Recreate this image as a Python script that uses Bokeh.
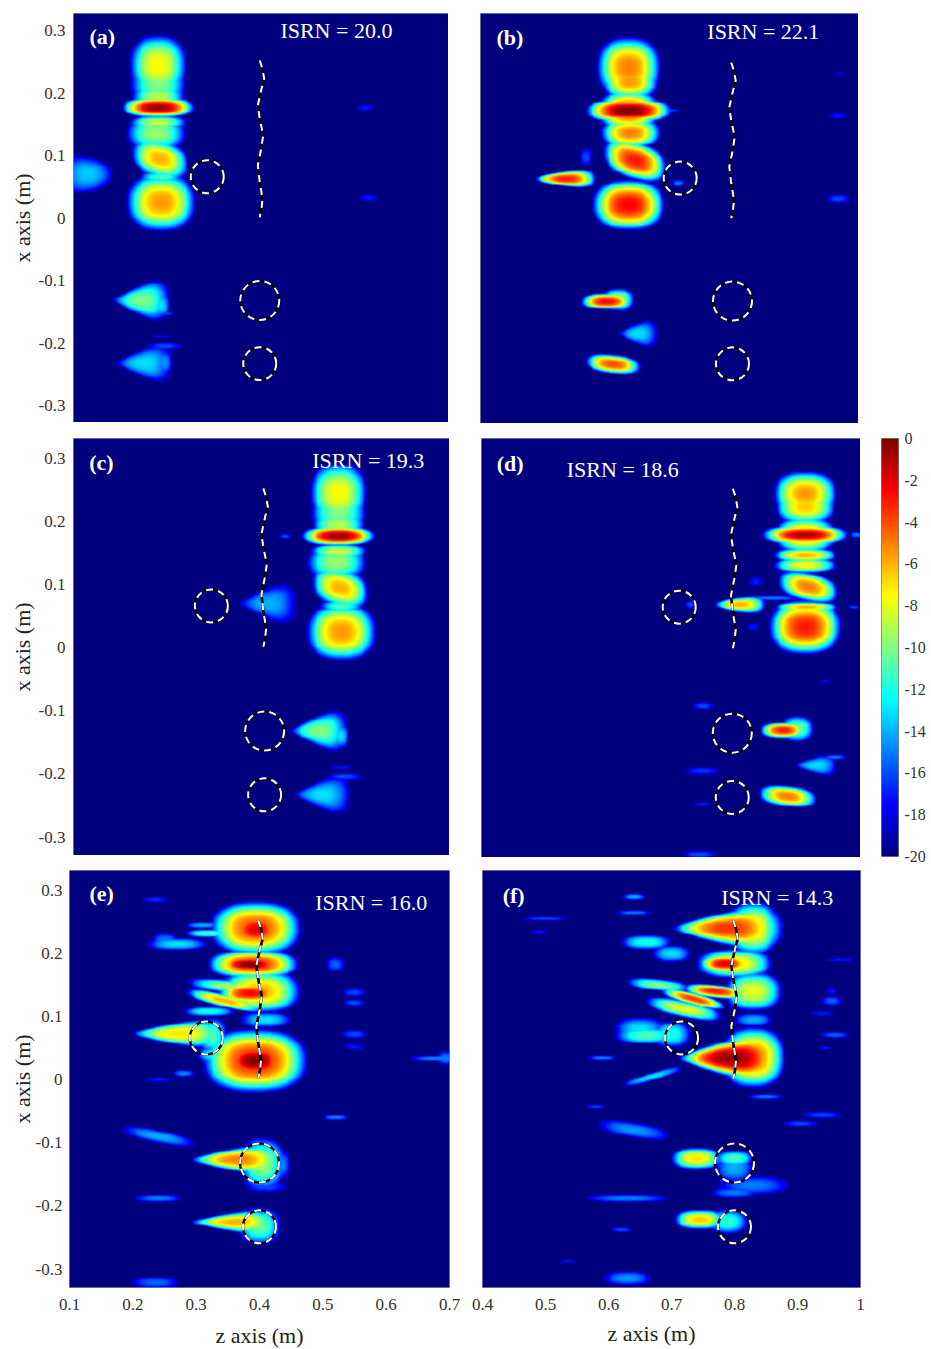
import numpy as np
from bokeh.plotting import figure
from bokeh.layouts import row, column
from bokeh.models import Range1d, FixedTicker, Label, LinearColorMapper, Title
from bokeh.embed import file_html
from bokeh.resources import INLINE

# each blob: z centre, x centre, half-width in z, half-width in x, peak (dB), [taper, slope]
blobs_a = [(.235,.245,.047,.05,-7.5),(.235,.215,.046,.035,-10),(.235,.195,.044,.02,-9),
 (.235,.177,.06,.016,-.5),(.235,.153,.047,.012,-8.5),(.232,.135,.049,.028,-9.5),
 (.238,.095,.047,.032,-6,0,-.2),(.24,.025,.057,.047,-5.5),(.24,.066,.036,.01,-11),(.122,.07,.042,.03,-13.5,-.3),
 (.208,-.132,.047,.026,-10,.8),(.24,-.14,.014,.02,-13),(.25,-.153,.012,.003,-16),
 (.212,-.233,.047,.024,-13,.8),(.245,-.232,.012,.02,-14.5),
 (.24,-.19,.02,.003,-17),(.245,-.205,.03,.006,-16),(.567,.177,.015,.005,-17),(.573,.032,.015,.006,-17),(.19,.177,.012,.002,-17)]
blobs_b = [(.635,.245,.052,.05,-5),(.637,.222,.046,.03,-5.5),(.635,.175,.07,.02,0),(.635,.175,.05,.035,-4),
 (.638,.139,.049,.025,-5),(.645,.095,.052,.032,-3,0,-.25),(.635,.023,.059,.042,-2.5),(.535,.065,.05,.013,-3,.5),
 (.567,.10,.01,.015,-16),(.714,.058,.012,.006,-15),(.7,.175,.018,.003,-16),
 (.6,-.133,.042,.013,-2.5),(.618,-.13,.027,.019,-9),(.65,-.185,.032,.018,-13,.7),(.61,-.234,.045,.016,-4,0,-.1),
 (.968,.167,.015,.006,-17),(.968,.033,.02,.008,-16),(.97,.236,.01,.003,-18)]
blobs_c = [(.523,.245,.047,.05,-7.5),(.523,.215,.046,.035,-10),(.523,.195,.044,.02,-9),
 (.523,.177,.06,.016,-.5),(.523,.153,.047,.012,-8.5),(.52,.135,.049,.028,-9.5),
 (.526,.095,.047,.032,-6,0,-.2),(.528,.025,.057,.047,-5.5),(.528,.066,.036,.01,-11),
 (.41,.07,.048,.026,-14,.8),(.492,-.132,.047,.026,-10,.8),(.526,-.14,.014,.02,-13),
 (.497,-.233,.047,.024,-13,.8),(.528,-.19,.02,.003,-17),(.533,-.205,.03,.006,-16),(.438,.177,.012,.004,-16)]
blobs_d = [(.913,.245,.052,.036,-5.5),(.913,.225,.049,.03,-6.5),(.913,.18,.07,.016,-1),(.913,.18,.05,.03,-6),
 (.913,.148,.052,.012,-6),(.913,.132,.052,.012,-7.5),(.918,.098,.049,.024,-5,0,-.2),(.915,.066,.052,.008,-6),
 (.913,.035,.059,.044,-3),(.81,.07,.042,.012,-6,.4),(.86,.08,.05,.004,-15),(.731,.07,.01,.007,-16),
 (.878,-.128,.037,.013,-3),(.9,-.125,.027,.021,-10),(.93,-.183,.034,.014,-13,.7),(.96,-.17,.02,.004,-15),
 (.885,-.232,.047,.017,-5,0,-.1),(.751,-.09,.018,.006,-16),(.75,-.192,.03,.006,-16.5),(.75,-.244,.015,.004,-17),
 (.745,-.324,.03,.006,-16),(.995,.18,.012,.006,-15),(.99,.066,.012,.003,-16),(.944,-.05,.012,.003,-17),
 (.835,.106,.012,.008,-17),(.83,.035,.01,.006,-17)]
blobs_e = [(.394,.24,.074,.044,-4),(.394,.238,.044,.027,-2),(.32,.232,.04,.007,-11),(.31,.245,.03,.005,-14),
 (.27,.215,.05,.01,-13),(.25,.22,.022,.014,-15),(.39,.183,.074,.023,-3),(.385,.183,.052,.013,0),
 (.4,.14,.067,.035,-6),(.385,.137,.052,.017,-2.5),(.36,.147,.075,.011,-9,0,-.1),
 (.345,.125,.062,.011,-6,0,-.23),(.32,.108,.042,.008,-12),(.41,.095,.042,.013,-13),
 (.272,.073,.076,.019,-7,.7),(.325,.07,.024,.03,-11),
 (.393,.03,.085,.052,-3),(.393,.03,.052,.027,0),(.33,.04,.03,.013,-12),
 (.68,.034,.045,.005,-15),(.695,.034,.015,.012,-15),(.52,.183,.015,.012,-15.5),(.55,.138,.02,.007,-16),
 (.55,.122,.018,.006,-16),(.55,.072,.022,.007,-16),(.55,.052,.018,.005,-17),(.52,-.06,.023,.005,-15),
 (.24,-.09,.06,.011,-14,0,-.2),(.365,-.127,.075,.02,-5,.7),(.405,-.133,.037,.042,-9.5),(.435,-.135,.014,.024,-15),
 (.36,-.226,.07,.016,-6,.7),(.4,-.232,.035,.03,-10.5),
 (.24,-.188,.04,.006,-15),(.235,-.322,.04,.01,-15.5),
 (.28,.01,.018,.006,-15),(.235,.285,.022,.005,-16.5),(.24,0.,.025,.004,-17),(.41,-.17,.035,.01,-16)]
blobs_f = [(.79,.24,.09,.028,-3.5,.7),(.83,.24,.042,.044,-7),
 (.8,.184,.062,.024,-7),(.785,.184,.042,.014,-2),(.66,.218,.042,.012,-12),(.70,.2,.032,.014,-13),(.83,.14,.047,.032,-8),(.77,.14,.052,.011,-3,0,-.1),
 (.735,.128,.052,.01,-3.5,0,-.25),(.72,.112,.062,.014,-8,0,-.2),(.68,.15,.052,.01,-10,0,-.1),(.83,.095,.032,.011,-14),
 (.65,.08,.042,.02,-13),(.66,.07,.052,.014,-11),(.7,.072,.032,.022,-12),
 (.795,.034,.085,.031,-.5,.7),(.83,.035,.052,.05,-5),
 (.67,.005,.05,.007,-13,0,.29),(.59,.035,.025,.004,-15),(.64,.29,.02,.006,-14),
 (.64,.265,.03,.004,-15),(.5,.255,.04,.003,-16),(.49,.235,.015,.003,-17),(.955,.125,.018,.008,-15.5),(.955,.14,.01,.006,-17),
 (.94,.105,.02,.004,-17),(.96,.071,.025,.005,-15.5),(.945,.05,.012,.003,-17),(.97,.19,.025,.003,-17),(.85,-.027,.03,.005,-15),
 (.94,-.056,.035,.006,-16),(.905,-.07,.03,.005,-16),(.58,-.043,.018,.003,-16),(.64,-.08,.06,.013,-14.5,0,-.15),
 (.74,-.125,.042,.018,-7),(.8,-.125,.032,.013,-11),(.8,-.14,.032,.024,-14),(.83,-.168,.06,.016,-15),(.8,-.18,.04,.008,-15),(.63,-.188,.07,.006,-15),
 (.745,-.222,.042,.016,-6.5),(.79,-.225,.032,.02,-11.5),(.62,-.238,.018,.004,-16),(.63,-.315,.04,.012,-14.5),(.535,-.288,.018,.003,-17)]

circle_z_a = [.314,.398,.398]; circle_z_b = [.717,.80,.80]; circle_z_c = [.32,.405,.405]
circle_z_d = [.713,.797,.797]; circle_z_e = [.316,.40,.40]; circle_z_f = [.716,.80,.80]
circle_x = [.066,-.132,-.233]
wave_z = [.398,.4024,.4051,.4008,.3949,.398,.4035,.4003,.3949,.398,.4024,.4008,.398]
wave_x = [.252,.2387,.2227,.2067,.18,.1587,.132,.1107,.084,.0573,.0307,.0147,.0013]
isrn_a, isrn_b, isrn_c, isrn_d, isrn_e, isrn_f = "20.0", "22.1", "19.3", "18.6", "16.0", "14.3"
z_ticks_left = [.1,.2,.3,.4,.5,.6,.7]
z_ticks_right = [.4,.5,.6,.7,.8,.9,1]
x_ticks = [-.3,-.2,-.1,0,.1,.2,.3]
x_labels = ["-0.3","-0.2","-0.1","0","0.1","0.2","0.3"]
cb_ticks = [0,-2,-4,-6,-8,-10,-12,-14,-16,-18,-20]

FONT = "Liberation Serif"
X_DEFAULT = (-.329, .331)

def jet(n=256):
    t = np.linspace(0, 1, n)
    r = np.clip(1.5 - np.abs(4*t - 3), 0, 1)
    g = np.clip(1.5 - np.abs(4*t - 2), 0, 1)
    b = np.clip(1.5 - np.abs(4*t - 1), 0, 1)
    return ["#%02x%02x%02x" % (int(a*255), int(c*255), int(d*255)) for a, c, d in zip(r, g, b)]

mapper = LinearColorMapper(palette=jet(), low=-20, high=0)

def field(blobs, z0, z1, x0, x1, nz=400, nx=440):
    zz, xx = np.meshgrid(np.linspace(z0, z1, nz), np.linspace(x0, x1, nx))
    out = np.full(zz.shape, -20.0)
    for blob in blobs:
        z, x, hz, hx, pk = blob[:5]
        taper = blob[5] if len(blob) > 5 else 0
        slope = blob[6] if len(blob) > 6 else 0
        u = (zz - z)/hz
        w = np.maximum(hx*(1 + taper*u), 1e-4)
        v = (xx - x - slope*(zz - z))/w
        s = np.abs(u)**2.5 + np.abs(v)**2.5
        out = np.maximum(out, -20 + (pk + 20)*(1 - s))
    return out

def panel(blobs, z0, z1, circ_z, wave_dz, tag, tag_pos, isrn, isrn_pos, fw, fh, bl, bt, br=0, bb=0,
          show_x=False, show_y=False, zt=None, xr=X_DEFAULT, tick_gap=8, label_gap=1, xlabel=True):
    x0, x1 = xr
    p = figure(frame_width=fw, frame_height=fh, output_backend="svg", toolbar_location=None,
               x_range=Range1d(z0, z1), y_range=Range1d(x0, x1),
               min_border_left=bl, min_border_top=bt, min_border_right=br, min_border_bottom=bb,
               background_fill_color="#00008f", border_fill_color="white")
    p.outline_line_color = "#8a8ab0"
    p.grid.visible = False
    p.image(image=[field(blobs, z0, z1, x0, x1)], x=z0, y=x0, dw=z1 - z0, dh=x1 - x0, color_mapper=mapper)
    zs = [z + wave_dz for z in wave_z]
    p.line(zs, wave_x, line_color="black", line_width=2.6)
    p.line(zs, wave_x, line_color="white", line_width=2, line_dash="7 6")
    sizes = [33, 39, 33]
    p.scatter(circ_z, circle_x, size=sizes, fill_alpha=0, line_color="black", line_width=2.4)
    p.scatter(circ_z, circle_x, size=sizes, fill_alpha=0, line_color="white", line_width=2, line_dash="7 5")
    p.add_layout(Label(x=tag_pos[0], y=tag_pos[1], text=tag, text_color="white", text_font=FONT,
                       text_font_style="bold", text_font_size="22px", text_baseline="middle"))
    p.add_layout(Label(x=isrn_pos[0], y=isrn_pos[1], text="ISRN = " + isrn, text_color="white", text_font=FONT,
                       text_font_size="22px", text_baseline="middle"))
    for ax in (p.xaxis[0], p.yaxis[0]):
        ax.major_tick_line_color = None
        ax.minor_tick_line_color = None
        ax.major_tick_out = 0
        ax.major_tick_in = 0
        ax.minor_tick_out = 0
        ax.axis_line_color = None
        ax.major_label_text_font = FONT
        ax.major_label_text_font_size = "17px"
        ax.major_label_text_color = "#333333"
        ax.axis_label_text_font = FONT
        ax.axis_label_text_font_size = "22px"
        ax.axis_label_text_font_style = "normal"
        ax.axis_label_text_color = "#222222"
    if show_x:
        p.xaxis.ticker = FixedTicker(ticks=zt)
        p.xaxis.major_label_overrides = {1: "1"}
        p.xaxis.major_label_standoff = 11
        if xlabel:
            p.xaxis.axis_label = "z axis (m)"
            p.xaxis.axis_label_standoff = 10
        else:
            p.add_layout(Title(text="z axis (m)", align="left", offset=125, standoff=13, text_font=FONT,
                               text_font_size="22px", text_font_style="normal", text_color="#222222"), "below")
    else:
        p.xaxis.visible = False
    if show_y:
        p.yaxis.ticker = FixedTicker(ticks=x_ticks)
        p.yaxis.major_label_overrides = dict(zip(x_ticks, x_labels))
        p.yaxis.major_label_standoff = tick_gap
        p.yaxis.axis_label = "x axis (m)"
        p.yaxis.axis_label_standoff = label_gap
    else:
        p.yaxis.visible = False
    return p

a = panel(blobs_a, .1, .7, circle_z_a, 0, "(a)", (.1256,.29), isrn_a, (.431,.30), 375, 409, 73, 13, show_y=True, xr=(-.3272,.3272))
b = panel(blobs_b, .4, 1., circle_z_b, .4, "(b)", (.4254,.293), isrn_b, (.76,.302), 378, 410, 32, 13)
c = panel(blobs_c, .1, .7, circle_z_c, .005, "(c)", (.125,.293), isrn_c, (.481,.296), 376, 417, 73, 15, show_y=True)
d = panel(blobs_d, .4, 1., circle_z_d, .4, "(d)", (.424,.292), isrn_d, (.535,.282), 379, 420, 32, 14)
e = panel(blobs_e, .1, .7, circle_z_e, 0, "(e)", (.1316,.295), isrn_e, (.488,.28), 380, 417, 69, 13, br=15, bb=60,
          show_x=True, show_y=True, zt=z_ticks_left, tick_gap=7, label_gap=-2)
f = panel(blobs_f, .4, 1., circle_z_f, .4, "(f)", (.432,.292), isrn_f, (.779,.2885), 378, 417, 18, 13, br=12, bb=60,
          show_x=True, zt=z_ticks_right, xlabel=False)

cb = figure(frame_width=17, frame_height=418, output_backend="svg", toolbar_location=None,
            x_range=Range1d(0, 1), y_range=Range1d(-20, 0), y_axis_location="right",
            min_border_left=9, min_border_right=30, min_border_top=438, min_border_bottom=12)
cb.grid.visible = False
cb.xaxis.visible = False
cb.outline_line_color = "#8a7a70"
levels = np.linspace(-20, 0, 256).reshape(-1, 1)
cb.image(image=[levels], x=0, y=-20, dw=1, dh=20, color_mapper=mapper)
yax = cb.yaxis[0]
yax.ticker = FixedTicker(ticks=cb_ticks)
yax.major_label_overrides = {t: str(t) for t in cb_ticks}
yax.major_tick_line_color = None
yax.minor_tick_line_color = None
yax.major_tick_out = 0
yax.major_tick_in = 0
yax.minor_tick_out = 0
yax.axis_line_color = None
yax.major_label_standoff = 6
yax.major_label_text_font = FONT
yax.major_label_text_font_size = "16px"
yax.major_label_text_color = "#333333"
cb.add_layout(Label(x=.5, y=6.55, text="Normalized amplitude (dB)", angle=np.pi/2, text_font=FONT,
                    text_font_size="22px", text_color="#222222", text_align="center", text_baseline="middle"))

layout = row(column(row(a, b), row(c, d), row(e, f)), cb)
open("out.html", "w").write(file_html(layout, INLINE))
